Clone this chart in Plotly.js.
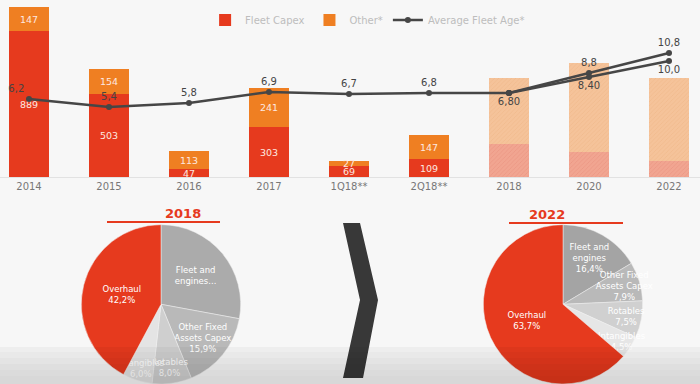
<!DOCTYPE html>
<html>
<head>
<meta charset="utf-8">
<script src="https://cdn.plot.ly/plotly-3.0.1.min.js"></script>
<style>html,body{margin:0;padding:0;background:#f7f7f7;}#chart{width:700px;height:384px;}</style>
</head>
<body>
<div id="chart"></div>
<script>
// ---- data ----
const categories = ["2014", "2015", "2016", "2017", "1Q18**", "2Q18**", "2018", "2020", "2022"];
const histCats = ["2014", "2015", "2016", "2017", "1Q18**", "2Q18**"];
const fleetCapex = [889, 503, 47, 303, 69, 109];
const otherCapex = [147, 154, 113, 241, 27, 147];
const projCats = ["2018", "2020", "2022"];
const fleetCapexProj = [200, 150, 100];
const otherCapexProj = [405, 545, 505];
const ageCats = ["2014", "2015", "2016", "2017", "1Q18**", "2Q18**", "2018"];
const fleetAge = [6.2, 5.4, 5.8, 6.9, 6.7, 6.8, 6.8];
const ageHighCats = ["2018", "2020", "2022"];
const fleetAgeHigh = [6.8, 8.8, 10.8];
const fleetAgeLow = [6.8, 8.4, 10.0];

const pieLabels = ["Fleet and engines", "Other Fixed Assets Capex", "Rotables", "Intangibles", "Overhaul"];
const pie2018 = [27.9, 15.9, 8.0, 6.0, 42.2];
const pie2018Text = ["Fleet and<br>engines...", "Other Fixed<br>Assets Capex<br>15,9%", "Rotables<br>8,0%", "Intangibles<br>6,0%", "Overhaul<br>42,2%"];
const pie2022 = [16.4, 7.9, 7.5, 4.5, 63.7];
const pie2022Text = ["Fleet and<br>engines<br>16,4%", "Other Fixed<br>Assets Capex<br>7,9%", "Rotables<br>7,5%", "Intangibles<br>4,5%", "Overhaul<br>63,7%"];

// ---- styles ----
const RED = "#e63a1e", ORANGE = "#ef7f22", LINE = "#464646";
const FONT = "DejaVu Sans, Verdana, sans-serif";
const barText = {family: FONT, size: 9.5, color: "#fde8e0"};

const traces = [
  {type: "bar", name: "Fleet Capex", x: histCats, y: fleetCapex, marker: {color: RED},
   text: fleetCapex, textposition: "inside", insidetextanchor: "middle", textfont: barText, hoverinfo: "y"},
  {type: "bar", name: "Other*", x: histCats, y: otherCapex, marker: {color: ORANGE},
   text: otherCapex, textposition: "inside", insidetextanchor: "middle", textfont: barText, hoverinfo: "y"},
  {type: "bar", name: "Fleet Capex (proj)", x: projCats, y: fleetCapexProj, showlegend: false,
   marker: {color: "#f0a08c", pattern: {shape: "/", fgcolor: "#ea9280", bgcolor: "#f1a591", size: 3, solidity: 0.2}}},
  {type: "bar", name: "Other (proj)", x: projCats, y: otherCapexProj, showlegend: false,
   marker: {color: "#f5c195", pattern: {shape: "/", fgcolor: "#f0b88a", bgcolor: "#f5c39a", size: 3, solidity: 0.2}}},
  {type: "scatter", mode: "lines+markers+text", name: "Average Fleet Age*", x: ageCats, y: fleetAge, yaxis: "y2",
   line: {color: LINE, width: 2.5}, marker: {color: LINE, size: 6},
   texttemplate: ["%{y:.1f}", "%{y:.1f}", "%{y:.1f}", "%{y:.1f}", "%{y:.1f}", "%{y:.1f}", "%{y:.2f}"],
   textposition: ["top left", "top center", "top center", "top center", "top center", "top center", "bottom center"],
   textfont: {family: FONT, size: 10, color: "#444"}},
  {type: "scatter", mode: "lines+markers+text", name: "Age high", x: ageHighCats, y: fleetAgeHigh, yaxis: "y2", showlegend: false,
   line: {color: LINE, width: 2.5}, marker: {color: LINE, size: 6},
   texttemplate: ["", "%{y:.1f}", "%{y:.1f}"], textposition: "top center",
   textfont: {family: FONT, size: 10, color: "#444"}},
  {type: "scatter", mode: "lines+markers+text", name: "Age low", x: ageHighCats, y: fleetAgeLow, yaxis: "y2", showlegend: false,
   line: {color: LINE, width: 2.5}, marker: {color: LINE, size: 6},
   texttemplate: ["", "%{y:.2f}", "%{y:.1f}"], textposition: "bottom center",
   textfont: {family: FONT, size: 10, color: "#444"}},
  {type: "pie", values: pie2018, labels: pieLabels, text: pie2018Text, textinfo: "text", sort: false,
   direction: "clockwise", rotation: 0, domain: {x: [0.1014, 0.3586], y: [0, 0.415]},
   marker: {colors: ["#ababab", "#b9b9b9", "#cfcfcf", "#e4e4e4", RED], line: {color: "#f0f0f0", width: 0.5}},
   textposition: "inside", insidetextorientation: "horizontal",
   textfont: {family: FONT, size: 8.5, color: "#ffffff"}, showlegend: false, hoverinfo: "label+percent"},
  {type: "pie", values: pie2022, labels: pieLabels, text: pie2022Text, textinfo: "text", sort: false,
   direction: "clockwise", rotation: 0, domain: {x: [0.6757, 0.9329], y: [0, 0.415]},
   marker: {colors: ["#a4a4a4", "#b9b9b9", "#d0d0d0", "#e6e6e6", RED], line: {color: "#f0f0f0", width: 0.5}},
   textposition: "inside", insidetextorientation: "horizontal",
   textfont: {family: FONT, size: 8.5, color: "#ffffff"}, showlegend: false, hoverinfo: "label+percent"}
];

function px(x) { return x / 700; }
function py(y) { return 1 - y / 384; }
const chev = [[343,223],[360,223],[378,300],[363,378],[343,378],[360,300]];
const chevPath = "M" + chev.map(p => px(p[0]).toFixed(4) + "," + py(p[1]).toFixed(4)).join(" L") + " Z";

const shapes = [
  {type: "line", xref: "paper", yref: "paper", x0: px(107), x1: px(220), y0: py(222), y1: py(222),
   line: {color: RED, width: 2}},
  {type: "line", xref: "paper", yref: "paper", x0: px(509), x1: px(623), y0: py(223), y1: py(223),
   line: {color: RED, width: 2}},
  {type: "path", xref: "paper", yref: "paper", path: chevPath, fillcolor: "#383838", line: {width: 0}}
];
// soft shadow band at the bottom of the photographed slide
[[347, 0.035], [352, 0.02], [358, 0.02], [364, 0.02], [370, 0.015], [376, 0.01]].forEach(b => {
  shapes.push({type: "rect", xref: "paper", yref: "paper", x0: 0, x1: 1, y0: 0, y1: py(b[0]), layer: "above",
               fillcolor: "rgba(0,0,0," + b[1] + ")", line: {width: 0}});
});

const layout = {
  width: 700, height: 384,
  margin: {l: 0, r: 0, t: 0, b: 0},
  paper_bgcolor: "#f7f7f7", plot_bgcolor: "#f7f7f7",
  font: {family: FONT, color: "#666"},
  separators: ",.",
  barmode: "stack", bargap: 0.5,
  uniformtext: {mode: "show", minsize: 8.5},
  xaxis: {type: "category", categoryorder: "array", categoryarray: categories,
          range: [-0.3625, 8.3875], domain: [0, 1], anchor: "y",
          showline: true, linecolor: "#e2e2e2", linewidth: 1, showgrid: false, zeroline: false,
          ticks: "", tickfont: {family: FONT, size: 10, color: "#777"}, fixedrange: true},
  yaxis: {domain: [0.5391, 1], range: [0, 1079], visible: false, fixedrange: true},
  yaxis2: {overlaying: "y", range: [-1.6, 16.1], visible: false, fixedrange: true},
  showlegend: true,
  legend: {orientation: "h", x: 0.293, xanchor: "left", y: 0.948, yanchor: "middle",
           bgcolor: "rgba(0,0,0,0)", font: {family: FONT, size: 10, color: "#bdbdbd"},
           itemwidth: 30, traceorder: "normal"},
  annotations: [
    {text: "<b>2018</b>", x: px(163), y: py(213), xref: "paper", yref: "paper", showarrow: false,
     font: {family: FONT, size: 13, color: RED}},
    {text: "<b>2022</b>", x: px(567), y: py(214), xref: "paper", yref: "paper", showarrow: false,
     font: {family: FONT, size: 13, color: RED}}
  ],
  shapes: shapes
};

Plotly.newPlot("chart", traces, layout, {staticPlot: true, displayModeBar: false});
</script>
</body>
</html>
